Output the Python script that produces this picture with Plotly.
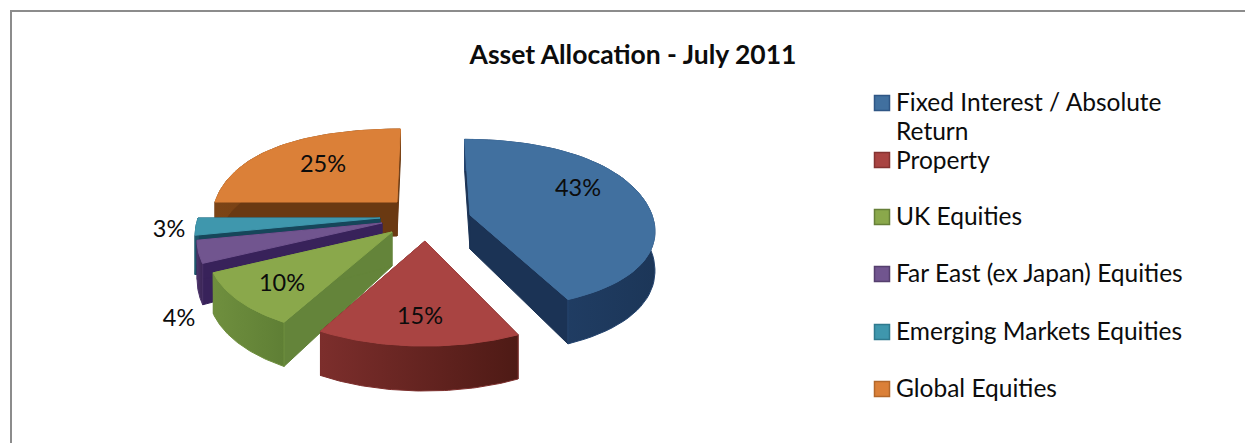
import numpy as np
import plotly.graph_objects as go

# Chart content
TITLE = "Asset Allocation - July 2011"
categories = [
    "Fixed Interest / Absolute",
    "Property",
    "UK Equities",
    "Far East (ex Japan) Equities",
    "Emerging Markets Equities",
    "Global Equities",
]
shares = [43, 15, 10, 4, 3, 25]

# Slice styling: top face, outer wall (left and right gradient stops), cut face, legend border
TOP = ["#41709f", "#a94442", "#8aa84b", "#71558f", "#3f97ad", "#db8038"]
WALL_L = ["#24446f", "#7c2e2c", "#6f8f3e", "#4a3268", "#1f5a70", "#7c4416"]
WALL_R = ["#1c3658", "#4e1a15", "#5f7f35", "#3a2555", "#1a4a5c", "#6b3a12"]
CUT = ["#1b3355", "#5a1f1c", "#64843a", "#38225a", "#16465a", "#6a3912"]
BORDER = ["#2f5685", "#843331", "#667f38", "#553f6e", "#2f7a8e", "#b3672a"]

# Exploded apex of each slice, in page pixels
APEX_X = [470, 425, 392, 382, 380, 397]
APEX_Y = [215, 241, 232, 223, 218, 202]

# Tilted-disc projection constants; the far-right slice foreshortens less
R_X = 182.0
R_Y = [85.0, 89.0, 89.0, 89.0, 89.0, 89.0]
FORESHORTEN = [0.11, 0.18, 0.18, 0.18, 0.18, 0.18]
DEPTH_BASE, DEPTH_SLOPE = 38.0, 7.0
VANISH_X, LEAN = 425.0, 0.12

LABEL_X = [578, 420, 282, 179, 169, 323]
LABEL_Y = [190, 318, 285, 320, 231, 166]
LEGEND_Y = [103, 160, 217, 274, 332, 389]
LEGEND_TEXT_Y = [105, 163, 219, 276, 334, 391]
WRAPPED_LINE = "Return"
WRAPPED_LINE_Y = 134
LEGEND_SWATCH_X, LEGEND_TEXT_X = 882, 896

FONT = "Lato"
INK = "#0c0c0c"


def project(i, theta):
    """Map a clockwise-from-north rim angle of slice i to page pixels."""
    cx, cy = APEX_X[i], APEX_Y[i]
    u, v = np.sin(theta), -np.cos(theta)
    sx = 1 + 0.137 * v + 0.094 * v * v
    sy = 1 + FORESHORTEN[i] * v
    return (cx + R_X * u * sx + (cx - VANISH_X) * LEAN * v,
            cy + R_Y[i] * v * sy,
            DEPTH_BASE + DEPTH_SLOPE * v)


def poly(xs, ys, fill, line=None, gradient=None):
    trace = dict(
        x=list(xs), y=list(ys), mode="lines", fill="toself",
        line=dict(color=line or fill, width=1), hoverinfo="skip", showlegend=False,
    )
    if gradient:
        trace["fillgradient"] = dict(
            type="horizontal", colorscale=[[0, gradient[0]], [1, gradient[1]]]
        )
    else:
        trace["fillcolor"] = fill
    return go.Scatter(**trace)


fig = go.Figure()

# Slice sweep angles come straight from the shares
total = sum(shares)
edges = np.cumsum([0] + shares) / total * 2 * np.pi

# Painter's order: back slices first, blue last
for i in [5, 4, 3, 2, 1, 0]:
    cx, cy = APEX_X[i], APEX_Y[i]
    t = np.linspace(edges[i], edges[i + 1], 60)
    rx, ry, rd = project(i, t)
    apex_depth = DEPTH_BASE - 4

    # Cut faces running from the apex to each end of the arc
    for end in (0, -1):
        fig.add_trace(poly(
            [cx, rx[end], rx[end], cx, cx],
            [cy, ry[end], ry[end] + rd[end], cy + apex_depth, cy],
            CUT[i],
        ))
    # Outer rim wall
    fig.add_trace(poly(
        np.r_[rx, rx[::-1], rx[0]],
        np.r_[ry, (ry + rd)[::-1], ry[0]],
        WALL_L[i], gradient=(WALL_L[i], WALL_R[i]),
    ))
    # Top face
    fig.add_trace(poly(np.r_[cx, rx, cx], np.r_[cy, ry, cy], TOP[i]))

# Percentage labels
fig.add_trace(go.Scatter(
    x=LABEL_X, y=LABEL_Y, mode="text", text=[f"{s}%" for s in shares],
    textposition="middle center", textfont=dict(family=FONT, size=23.5, color=INK),
    hoverinfo="skip", showlegend=False,
))

# Key: swatches with their names
fig.add_trace(go.Scatter(
    x=[LEGEND_SWATCH_X] * len(categories), y=LEGEND_Y, mode="markers",
    marker=dict(symbol="square", size=15, color=TOP, line=dict(color=BORDER, width=1.5)),
    hoverinfo="skip", showlegend=False,
))
fig.add_trace(go.Scatter(
    x=[LEGEND_TEXT_X] * (len(categories) + 1),
    y=LEGEND_TEXT_Y + [WRAPPED_LINE_Y],
    mode="text", text=categories + [WRAPPED_LINE], textposition="middle right",
    textfont=dict(family=FONT, size=24.5, color=INK),
    hoverinfo="skip", showlegend=False,
))

# Frame along the top and left of the page
frame = dict(type="line", xref="x", yref="y", line=dict(color="#8c8c8c", width=2))
fig.add_shape(x0=10, y0=11, x1=1245, y1=11, **frame)
fig.add_shape(x0=11, y0=10, x1=11, y1=443, **frame)

fig.update_layout(
    width=1245, height=443, autosize=False,
    margin=dict(l=0, r=0, t=0, b=0),
    paper_bgcolor="white", plot_bgcolor="white",
    title=dict(
        text=f"<b>{TITLE}</b>", x=633 / 1245, xanchor="center",
        y=1 - 55 / 443, yanchor="middle",
        font=dict(family=FONT, size=26.5, color=INK),
    ),
    xaxis=dict(range=[0, 1245], visible=False, fixedrange=True),
    yaxis=dict(range=[443, 0], visible=False, fixedrange=True),
)

fig.write_html("out.html", config=dict(displayModeBar=False))
